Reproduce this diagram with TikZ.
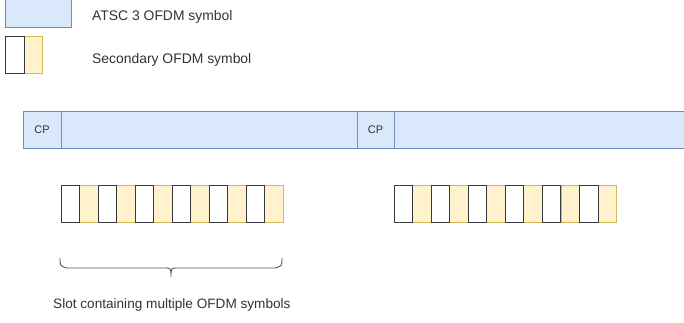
\documentclass[tikz,border=0pt]{standalone}
\usepackage{fontspec}
\setmainfont{Liberation Sans}
\definecolor{atscF}{HTML}{DAE8FC}
\definecolor{atscS}{HTML}{6C8EBF}
\definecolor{secF}{HTML}{FFF2CC}
\definecolor{secS}{HTML}{D6B656}
\definecolor{whS}{HTML}{36393D}
\definecolor{txt}{HTML}{333333}
\definecolor{brc}{HTML}{555555}
\tikzset{
  box/.style={rectangle, inner sep=0pt, outer sep=0pt, anchor=north west, line width=0.9pt},
  atsc/.style={box, draw=atscS, fill=atscF},
  secy/.style={box, draw=secS, fill=secF, minimum width=18.5pt, minimum height=37pt},
  secw/.style={box, draw=whS, fill=white, minimum width=18.5pt, minimum height=37pt},
  lbl/.style={text=txt, inner sep=0pt, anchor=west},
}
\begin{document}
\begin{tikzpicture}[x=1pt,y=-1pt]
\clip (0,0) rectangle (684,322);
\fill[white] (0,0) rectangle (684,322);
% legend
\node[atsc, minimum width=66pt, minimum height=33pt] (legA) at (5,-6) {};
\node[lbl, font=\fontsize{13.9}{17}\selectfont] (legAt) at (92,17) {ATSC 3 OFDM symbol};
\node[box, draw=secS, fill=secF, minimum width=18.5pt, minimum height=37pt] (legY) at (24,36) {};
\node[box, draw=whS, fill=white, minimum width=19pt, minimum height=37pt] (legW) at (5,36) {};
\node[lbl, font=\fontsize{13.9}{17}\selectfont] (legBt) at (92,60) {Secondary OFDM symbol};
% bar
\node[atsc, minimum width=38pt, minimum height=37pt, font=\fontsize{11}{13}\selectfont, text=txt] (cp1) at (23,111) {CP};
\node[atsc, minimum width=296pt, minimum height=37pt] (d1) at (61,111) {};
\node[atsc, minimum width=37pt, minimum height=37pt, font=\fontsize{11}{13}\selectfont, text=txt] (cp2) at (357,111) {CP};
\node[atsc, minimum width=300pt, minimum height=37pt] (d2) at (394,111) {};
% symbols row 1
\foreach \i in {0,...,5}{
  \node[secy] (ya\i) at ({61+37*\i+18.5},185) {};
}
\foreach \i in {0,...,5}{
  \node[secw] (wa\i) at ({61+37*\i},185) {};
}
% symbols row 2
\foreach \i in {0,...,5}{
  \node[secy] (yb\i) at ({394+37.1*\i+18.55},185) {};
}
\foreach \i in {0,...,5}{
  \node[secw] (wb\i) at ({394+37.1*\i},185) {};
}
% brace
\coordinate (bL) at (60,258);
\coordinate (bR) at (282,258);
\coordinate (bT) at (171,277);
\draw[brc, line width=0.9pt] (bL) .. controls (60,266) .. (67,268) -- (164,268) .. controls (171,268) .. (bT)
  .. controls (171,268) .. (178,268) -- (275,268) .. controls (282,266) .. (bR);
\node[lbl, font=\fontsize{13.6}{16}\selectfont] (slot) at (53,305) {Slot containing multiple OFDM symbols};
\end{tikzpicture}
\end{document}
